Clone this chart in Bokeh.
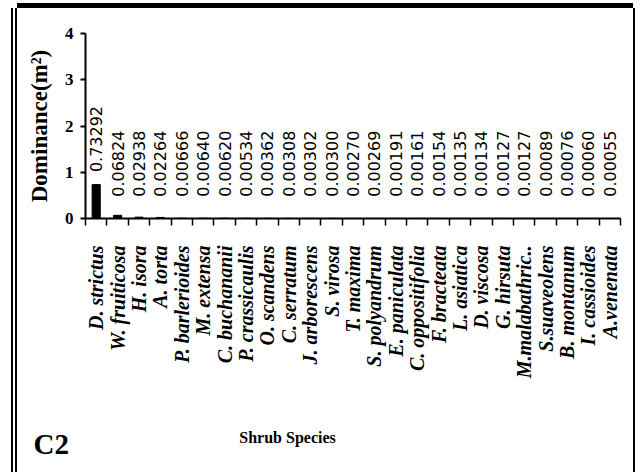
import math
from bokeh.plotting import figure
from bokeh.models import Range1d, FixedTicker
from bokeh.core.properties import value
from bokeh.embed import file_html
from bokeh.resources import INLINE

species = ["D. strictus", "W. fruiticosa", "H. isora", "A. torta", "P. barlerioides",
           "M. extensa", "C. buchananii", "P. crassicaulis", "O. scandens", "C. serratum",
           "J. arborescens", "S. virosa", "T. maxima", "S. polyandrum", "E. paniculata",
           "C. oppositifolia", "F. bracteata", "L. asiatica", "D. viscosa", "G. hirsuta",
           "M.malabathric..", "S.suaveolens", "B. montanum", "I. cassioides", "A.venenata"]
dominance = [0.73292, 0.06824, 0.02938, 0.02264, 0.00666, 0.00640, 0.00620, 0.00534,
             0.00362, 0.00308, 0.00302, 0.00300, 0.00270, 0.00269, 0.00191, 0.00161,
             0.00154, 0.00135, 0.00134, 0.00127, 0.00127, 0.00089, 0.00076, 0.00060,
             0.00055]
y_ticks = [0, 1, 2, 3, 4]
x_title = "Shrub Species"
panel_tag = "C2"

n = len(species)
xs = list(range(n))
bounds = [i - 0.5 for i in range(n + 1)]
label_text = [f"{v:.5f}" for v in dominance]
label_y = [max(v + 0.27, 0.47) for v in dominance]

W = 616
BL, BR = 68, 13
side_lines = "-2px 0 0 0 black, -4px 0 0 0 white, -6px 0 0 0 black, 2px 0 0 0 black"

p = figure(width=W, height=400, output_backend="svg", toolbar_location=None,
           x_range=Range1d(-0.5, n - 0.5), y_range=Range1d(0, 4),
           min_border_left=BL, min_border_right=BR, min_border_top=25,
           min_border_bottom=190, background_fill_color="white",
           border_fill_color="white")
p.outline_line_color = None
p.xgrid.visible = False
p.ygrid.visible = False
p.styles = {"position": "relative", "left": "17px", "top": "8px",
            "box-shadow": side_lines + ", 0 -5px 0 0 black"}

p.vbar(x=xs, top=dominance, width=0.38, color="black")
p.text(x=xs, y=label_y, text=label_text, angle=math.pi / 2, text_align="left",
       text_baseline="middle", text_font=value("DejaVu Sans"), text_font_size="16px",
       text_color="black")

xa = p.xaxis[0]
xa.ticker = FixedTicker(ticks=xs, minor_ticks=bounds)
xa.major_label_overrides = {i: s for i, s in zip(xs, species)}
xa.major_label_orientation = math.pi / 2
xa.major_tick_line_color = None
xa.major_tick_out = 0
xa.major_tick_in = 0
xa.minor_tick_line_color = "black"
xa.minor_tick_line_width = 1.5
xa.minor_tick_out = 7
xa.minor_tick_in = 0
xa.axis_line_width = 2
xa.axis_line_color = "black"
xa.major_label_standoff = 20
xa.major_label_text_font = "Liberation Serif"
xa.major_label_text_font_style = "bold italic"
xa.major_label_text_font_size = "20px"
xa.major_label_text_color = "black"

ya = p.yaxis[0]
ya.ticker = FixedTicker(ticks=y_ticks, minor_ticks=[])
ya.major_tick_out = 5
ya.major_tick_in = 0
ya.major_tick_line_width = 2
ya.major_tick_line_color = "black"
ya.axis_line_width = 2
ya.axis_line_color = "black"
ya.major_label_standoff = 7
ya.major_label_text_font = "Liberation Serif"
ya.major_label_text_font_style = "bold"
ya.major_label_text_font_size = "17px"
ya.major_label_text_color = "black"
ya.axis_label = "Dominance(m²)"
ya.axis_label_standoff = 10
ya.axis_label_text_font = "Liberation Serif"
ya.axis_label_text_font_style = "bold"
ya.axis_label_text_font_size = "23px"
ya.axis_label_text_color = "black"

# bottom strip sharing the same horizontal scale as the chart
px_per_unit = (W - BL - BR) / n
x0 = -0.5 - BL / px_per_unit
x1 = n - 0.5 + BR / px_per_unit
p2 = figure(width=W, height=64, output_backend="svg", toolbar_location=None,
            x_range=Range1d(x0, x1), y_range=Range1d(0, 1),
            x_axis_location=None, y_axis_location=None,
            min_border=0, background_fill_color="white", border_fill_color="white")
p2.outline_line_color = None
p2.xgrid.visible = False
p2.ygrid.visible = False
p2.styles = {"position": "relative", "left": "17px", "top": "8px",
             "box-shadow": side_lines}
p2.text(x=[8.94], y=[0.54], text=[x_title], text_align="center",
        text_baseline="middle", text_font=value("Liberation Serif"),
        text_font_style="bold", text_font_size="16px", text_color="black")
p2.text(x=[-2.93], y=[0.445], text=[panel_tag], text_align="left",
        text_baseline="middle", text_font=value("Liberation Serif"),
        text_font_style="bold", text_font_size="29px", text_color="black")

open("out.html", "w").write(file_html([p, p2], INLINE))
